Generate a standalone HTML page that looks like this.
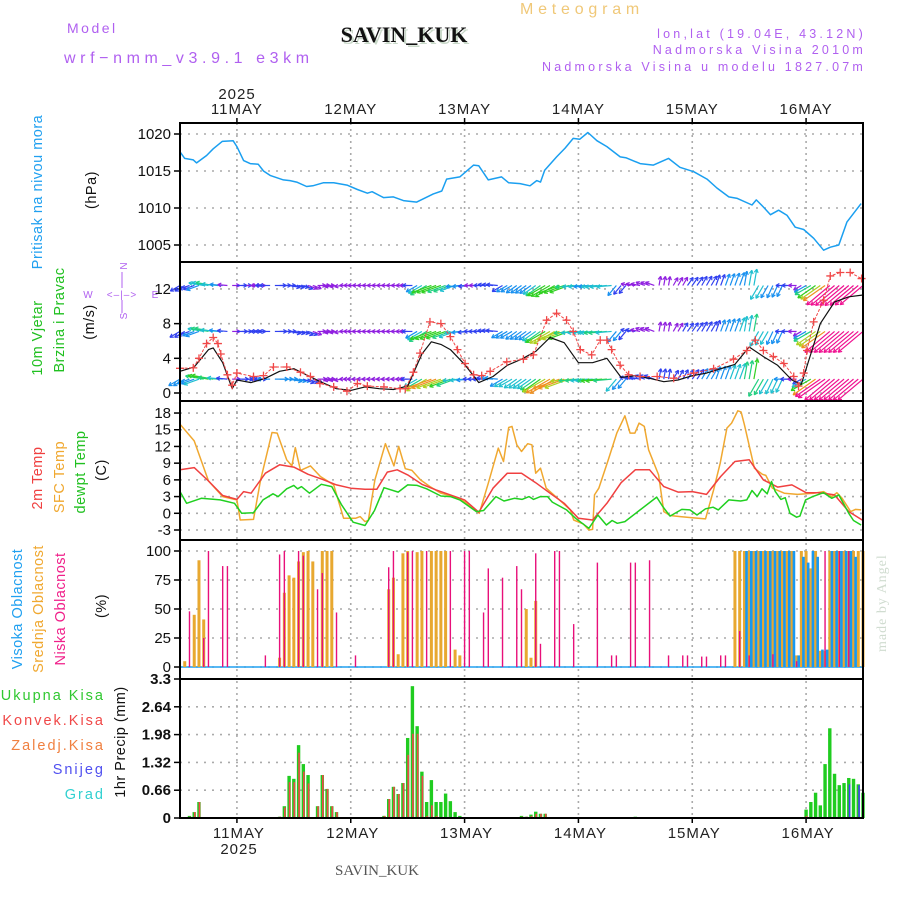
<!DOCTYPE html>
<html><head><meta charset="utf-8"><title>Meteogram SAVIN_KUK</title>
<style>
html,body{margin:0;padding:0;background:#fff;}
svg{display:block;font-family:"Liberation Sans",sans-serif;}
</style></head>
<body>
<svg id="chart" xmlns="http://www.w3.org/2000/svg" width="900" height="900" viewBox="0 0 900 900">
<g id="static">
<text x="67" y="33" font-size="14" fill="#b060f0" letter-spacing="2.5">Model</text>
<text x="64" y="63" font-size="16" fill="#b060f0" letter-spacing="4.6">wrf−nmm_v3.9.1 e3km</text>
<text x="406" y="44" font-size="22" font-weight="bold" text-anchor="middle" font-family="Liberation Serif,serif" fill="#c8d8c8" >SAVIN_KUK</text>
<text x="404" y="42" font-size="22" font-weight="bold" text-anchor="middle" font-family="Liberation Serif,serif" fill="#111">SAVIN_KUK</text>
<text x="582" y="14" font-size="16" text-anchor="middle" fill="#f0c878" letter-spacing="4.8">Meteogram</text>
<text x="866" y="38" font-size="12.5" text-anchor="end" fill="#b060f0" letter-spacing="3.2">lon,lat (19.04E, 43.12N)</text>
<text x="866" y="54" font-size="12.5" text-anchor="end" fill="#b060f0" letter-spacing="3.2">Nadmorska Visina 2010m</text>
<text x="866" y="71" font-size="12.5" text-anchor="end" fill="#b060f0" letter-spacing="3.2">Nadmorska Visina u modelu 1827.07m</text>
<text x="237" y="99" font-size="15" text-anchor="middle" fill="#222" letter-spacing="1">2025</text>
<text x="239" y="854" font-size="15" text-anchor="middle" fill="#222" letter-spacing="1">2025</text>
<text x="377" y="875" font-size="15" text-anchor="middle" font-family="Liberation Serif,serif" fill="#555">SAVIN_KUK</text>
<text transform="translate(886,652) rotate(-90)" font-size="14" font-family="Liberation Serif,serif" fill="#d0dcd0" letter-spacing="1">made by Angel</text>
</g>
<g font-size="14.5" letter-spacing="0.5">
<text transform="translate(42,192) rotate(-90)" text-anchor="middle" fill="#20a0f0">Pritisak na nivou mora</text>
<text transform="translate(96,190) rotate(-90)" text-anchor="middle" fill="#111">(hPa)</text>
<text transform="translate(42,338) rotate(-90)" text-anchor="middle" fill="#20c020">10m Vjetar</text>
<text transform="translate(64,320) rotate(-90)" text-anchor="middle" fill="#20c020">Brzina i Pravac</text>
<text transform="translate(94,322) rotate(-90)" text-anchor="middle" fill="#111">(m/s)</text>
<text transform="translate(42,478) rotate(-90)" text-anchor="middle" fill="#f04040">2m Temp</text>
<text transform="translate(64,477) rotate(-90)" text-anchor="middle" fill="#f0a830">SFC Temp</text>
<text transform="translate(85,472) rotate(-90)" text-anchor="middle" fill="#20c020">dewpt Temp</text>
<text transform="translate(106,470) rotate(-90)" text-anchor="middle" fill="#111">(C)</text>
<text transform="translate(22,609) rotate(-90)" text-anchor="middle" fill="#20a0f0">Visoka Oblacnost</text>
<text transform="translate(43,609) rotate(-90)" text-anchor="middle" fill="#f0a830">Srednja Oblacnost</text>
<text transform="translate(65,609) rotate(-90)" text-anchor="middle" fill="#f0208a">Niska Oblacnost</text>
<text transform="translate(106,606) rotate(-90)" text-anchor="middle" fill="#111">(%)</text>
<text transform="translate(125,742) rotate(-90)" text-anchor="middle" fill="#111">1hr Precip (mm)</text>
<text x="105" y="700" text-anchor="end" fill="#30c830" letter-spacing="2">Ukupna  Kisa</text>
<text x="105" y="725" text-anchor="end" fill="#f04848" letter-spacing="2">Konvek.Kisa</text>
<text x="105" y="750" text-anchor="end" fill="#f08040" letter-spacing="2">Zaledj.Kisa</text>
<text x="105" y="774" text-anchor="end" fill="#5050f0" letter-spacing="2">Snijeg</text>
<text x="105" y="799" text-anchor="end" fill="#30d0d0" letter-spacing="2">Grad</text>
</g>
<g font-size="10" fill="#b060f0" text-anchor="middle">
<text x="88" y="298">W</text><text x="155" y="298">E</text>
<text x="123" y="270" transform="rotate(-90 123 266)">N</text>
<text x="123" y="320" transform="rotate(-90 123 316)">S</text>
<text x="122" y="298" letter-spacing="1">&lt;–|–&gt;</text>
<line x1="122" y1="272" x2="122" y2="288" stroke="#b060f0" stroke-width="1"/>
<line x1="122" y1="300" x2="122" y2="313" stroke="#b060f0" stroke-width="1"/>
</g>
<g id="grid"></g>
<g id="marks"></g>
<g id="frames"></g>
</svg>
<script>
// ---------- data ----------
const dayLabels = ["11MAY","12MAY","13MAY","14MAY","15MAY","16MAY"];
const dayHours = [12,36,60,84,108,132];
const pressTicks = [1020,1015,1010,1005];
const windTicks = [12,8,4,0];
const tempTicks = [18,15,12,9,6,3,0,-3];
const cloudTicks = [100,75,50,25,0];
const precipTicks = ["3.3","2.64","1.98","1.32","0.66","0"];

const pressHours = [0,1,2.8,3.5,5.6,7,8.9,11.2,12,13.4,14.8,16.5,17.6,19,21.8,23.2,24.6,26.7,28,30.2,32.4,35.2,37.4,39.5,40.5,42.9,45,47.1,49.9,53.4,55.2,56.2,59,61.9,63,65,67.8,69.3,71.7,73.8,75.2,76,76.9,79.4,81.2,82.9,84.3,86,87.9,90,92.8,94,97,99.8,103,105.4,108.3,111.1,113.2,115.7,117.5,120.6,121.5,122.9,124.5,126.2,128,129.7,131.5,133.6,135.7,137.1,138.9,140.6,143.6];
const pressVals = [1017.6,1016.7,1016.5,1016.1,1017.1,1018,1019,1019.1,1018.3,1016.4,1016,1015.9,1015,1014.4,1013.8,1013.7,1013.5,1012.9,1013.0,1013.4,1013.4,1013.1,1012.5,1012,1012.2,1011.4,1011.5,1011,1010.8,1011.9,1012.3,1013.9,1014.2,1015.8,1015.7,1013.8,1014.2,1013.4,1013.3,1013,1013.7,1013.5,1015.1,1016.9,1018.1,1019.4,1019.3,1020.2,1019.1,1018.3,1016.9,1016.8,1016.0,1015.8,1016.7,1015.5,1014.9,1013.9,1012.7,1011.5,1011.3,1010.4,1011.1,1010.2,1009.1,1009.7,1009,1007.4,1007.1,1005.9,1004.3,1004.7,1005,1008.1,1010.6];

const speedHours = [0,2.8,4,5.6,7,8,8.6,10,11,12,15.5,17.6,19.7,22.5,25.4,27.5,29.5,32.4,35.2,37.4,39.5,43,46.4,47.5,49.2,50.6,52.7,55,57,58.5,60.1,61.9,63.6,65.4,68.9,72.4,74.5,77.3,79.4,81.5,82.9,84.4,86.8,88.6,90,91,92.8,94.6,97,100.6,104.1,108.3,112.5,116.7,119.5,121.3,123,125.1,127.3,129.4,130.4,131.5,132.2,133.6,135.7,137.1,139.2,141.3,143.7];
const speedVals = [2.85,2.9,4,5.7,6.4,5.7,4.5,2.1,0.9,2.3,1.9,2,3.0,3.0,2.4,1.9,1.1,0.7,0.2,1.1,0.8,0.7,0.5,0.5,2.4,4.6,8.2,8.0,6.5,5,3.4,2.1,2,2.5,3.6,3.9,4.4,8.4,9.2,8.4,7.1,5,4.4,6.1,6.1,5,3.2,2.1,1.9,1.9,1.7,2.3,2.8,3.9,4.9,6.1,4.9,4.2,3.4,1.9,0.8,2.3,4.9,8.2,10.7,13.5,13.9,13.9,13.2];
const calmHours = [0,3,6,7,9,11,12,15,18,21,24,27,30,33,36,39,42,45,48,51,53,55,57,60,63,66,69,72,75,78,81,84,87,90,93,96,99,102,105,108,111,114,117,120,123,126,129,131,133,135,138,141,144];
const calmVals = [2.5,3.0,5.0,5.2,3.5,0.5,1.5,1.2,1.7,2.5,2.8,2.0,1.2,0.5,0.3,0.7,0.5,0.4,0.8,4.5,5.9,5.6,5.0,3.3,1.2,1.9,3.2,3.9,4.8,6.4,5.8,3.5,3.5,4.0,1.8,2.0,1.7,1.3,1.5,2.0,2.3,2.8,3.3,5.3,4.2,3.2,1.5,1.0,4.5,8.0,10.5,11.1,11.3];
// wind direction (screen angle of arrow, degrees) every 3 hours from hour 0
const windDir = [150,160,190,185,0,0,180,0,10,20,0,170,180,180,180,180,180,150,160,160,175,180,185,150,145,145,150,160,175,175,175,130,190,200,280,300,305,300,290,290,280,120,115,180,150,145,140,140,140];

const t2Hours = [0,3,6,9,12,13.4,15,18,21,24,27,30,33,36,39,41.5,43.7,45.8,48,51,54,57,60,63,66,69,72,75,78,81,84,87,90,93,96,99,102,105,108,111,114,117,120,123,126,129,132,135,138,141,144];
const t2Vals = [7.8,8.2,5.8,3.2,2.5,3.9,3.6,7.2,8.7,8.3,7.0,6.1,5.1,4.5,4.3,4.3,7.4,7.8,6.9,5.2,4.2,3.3,2.4,0.2,4.5,7.2,7.2,5.5,3.6,1.8,-0.9,-1.2,1.8,5.5,7.8,7.8,4.8,3.8,3.9,3.4,6.6,9.3,9.6,6.0,4.7,5.1,3.7,3.7,3.3,0.3,-1.3];
const sfcHours = [0,3,6,9,12,12.7,15.5,17,19.4,20.5,22.5,23.6,24.3,25.4,27.5,29.6,32.4,34.5,37,38,39,39.7,41.1,43.3,45.1,46.1,47.5,48.9,50.7,52.7,55,59,63.1,65,67.1,68.2,69.3,70,71,72,73.3,74.2,75,76,77.2,80,82.3,83,85,86.2,87,87.4,88.3,90.3,92.1,93.8,94.9,95.9,96.8,97.9,98.8,100.9,102,103.3,105.5,108,110.8,112.5,113.9,115.3,116.3,117.6,118.3,119,121.1,122.8,123.5,124.9,127.4,130.2,133.6,135.7,137.4,138.5,139.6,141.4,142.4,143.6];
const sfcVals = [16,13,5.8,3.0,2.4,-1.2,-1.1,6,14.5,14.4,9.6,8.5,11.8,7.7,8.5,6.6,5.1,-0.9,-0.9,-0.6,-1.5,-1.3,6,12.5,8.5,12,8,7.7,6,4.8,3.6,2.7,0,5.4,11.7,9.3,15.4,15.6,12.3,11.1,12.5,12.3,7.2,8.1,4.5,2.4,0.6,-1.2,-1.9,-3,-2.9,3.3,4.5,9.6,14.4,17.5,14.4,14.4,16.2,15.6,11.4,6.9,0.3,-0.4,-0.6,-0.8,-1,4.2,9,15.3,16.2,18.4,18.2,15.9,8.1,7,6.8,4.5,3.6,3.4,3.6,3.9,3,3.7,2.7,0.3,0.7,0.6];
const dewHours = [0,1.4,4.5,8.5,11.5,13,15.5,17.5,19.6,20.7,22.5,24,24.8,25.6,27.3,29.8,32,34,36.5,39,41,43,46,48,50,52,55,57,59,62.5,64,66.6,68.3,70.5,72.1,73.6,74.5,76,77.5,78.5,81.5,83.4,86.2,88.1,89.9,91.1,92.2,93.8,97,100.5,101.8,103.3,105.8,107.5,109,110.8,112.4,113.5,115.7,118.2,119.5,120.6,121.7,122.7,123.8,124.7,125.5,126.7,127.6,128.6,130,130.7,131.9,133.4,135,135.7,137.4,138.9,141,142,143.6];
const dewVals = [3.9,1.8,2.7,2.4,1.8,0,0.1,2.4,3.5,3.0,4.4,5,4.4,4.8,3.6,5.2,4.8,1.6,-1.6,-2.2,0.5,4.6,3.8,5.1,5,4.4,3.1,3.0,2.4,0.3,0.5,3.0,2.2,2.7,2.5,3.0,2.5,3.0,3.0,2.0,0.6,-0.9,-2.7,-0.3,-2.1,-1.3,-1.8,-1.5,0.6,2.9,1.2,-0.5,0.7,0.6,-0.3,0.8,1.1,0.6,2.4,2.2,2.4,4.1,3.0,4.4,3.5,5.7,3.9,2.5,2.8,0,-0.7,-0.5,2.4,3,3.5,3.7,2.7,3.3,0,-1.3,-2.1];

const lowHours = [2,5,6,9,10,18,21,22,25,26,29,30,33,37,44,45,48,49,52,57,60,61,64,65,68,71,72,75,76,79,80,83,88,91,92,95,96,99,103,106,107,110,111,114,115,118,120,125,130,136,139,141];
const lowVals = [48,25,100,87,87,10,97,100,100,96,67,81,47,10,86,100,99,100,100,100,100,100,47,85,77,87,67,98,20,100,100,37,90,10,10,90,90,92,10,10,10,9,9,10,10,31,10,11,5,100,100,100];
const midHours = [1,3,4,5,21,22,23,24,25,26,27,28,30,31,32,44,45,46,47,48,50,51,53,54,55,56,58,59,73,74,75,117,118,119,120,121,122,123,124,125,126,127,128,129,130,131,132,133,134,135,136,137,138,139,140,141,142,143,144];
const midVals = [5,45,92,41,8,64,79,77,91,99,100,91,100,100,100,67,77,11,98,100,99,100,100,100,100,100,15,10,50,8,57,100,100,100,100,100,100,100,100,100,100,100,100,100,10,100,100,85,100,14,14,100,100,100,100,100,100,100,100];
const highHours = [119,120,121,122,123,124,125,126,127,128,129,130,131,132,133,134,135,136,137,138,139,140,141,142];
const highVals = [100,100,100,100,100,100,100,100,100,100,100,10,95,90,100,95,15,15,100,100,100,100,100,95];

const precipHours = [2,3,4, 21,22,23,24,25,26,27, 29,30,31,32,33, 43,44,45,46,47,48,49,50,51,52,53,54,55,56,57,58,59, 72,73,74,75,76,77, 96, 132,133,134,135,136,137,138,139,140,141,142,143,144];
const precipTotal = [0.05,0.14,0.38, 0.03,0.28,1.0,0.93,1.73,1.28,1.02, 0.28,1.02,0.69,0.28,0.14, 0.05,0.45,0.74,0.57,0.83,1.9,3.13,2.18,1.1,0.38,0.9,0.38,0.38,0.58,0.4,0.14,0.05, 0.05,0.03,0.08,0.15,0.1,0.1, 0.03, 0.2,0.38,0.6,0.3,1.28,2.13,1.05,0.78,0.83,0.95,0.93,0.8,0.6];
const precipConv = [0.03,0.14,0.38, 0.03,0.25,0.85,0.85,1.55,1.1,0.82, 0.28,1.02,0.69,0.28,0.14, 0.05,0.45,0.74,0.57,0.83,1.5,2.0,2.0,1.0,0.05,0.3,0.05,0,0,0,0,0, 0.03,0.03,0.05,0.1,0.1,0.1, 0, 0.05,0,0,0,0,0,0,0,0,0,0,0,0];
const precipSnow = [0,0,0, 0,0,0,0,0,0,0, 0,0,0,0,0, 0,0,0,0,0,0,0,0,0,0,0,0,0,0,0,0,0, 0,0,0,0,0,0, 0, 0,0,0,0,0,0,0,0,0,0.8,0,0.78,0];

// ---------- axes ----------
const X0 = 180, X1 = 863, HSPAN = 144;
const P1 = {top:123, bot:262}, P2 = {top:262, bot:401}, P3 = {top:401, bot:540}, P4 = {top:540, bot:679}, P5 = {top:679, bot:818};
function xH(h){ return X0 + h*(X1-X0)/HSPAN; }
function yP(v){ return 134 + (1020-v)*7.4; }
function yW(v){ return 393 - v*8.67; }
function yT(v){ return 530 - (v+3)*5.57; }
function yC(v){ return 667 - v*1.16; }
function yR(v){ return 818 - v*(139/3.3); }

const NS = "http://www.w3.org/2000/svg";
function mk(tag, attrs, parent){
  const e = document.createElementNS(NS, tag);
  for (const k in attrs) e.setAttribute(k, attrs[k]);
  parent.appendChild(e); return e;
}
const grid = document.getElementById('grid');
const marks = document.getElementById('marks');
const frames = document.getElementById('frames');
const panels = [P1,P2,P3,P4,P5];

dayHours.forEach((h,i)=>{
  const x = xH(h);
  const ln = mk('line',{x1:x,y1:123,x2:x,y2:818,stroke:'#aaa','stroke-width':1.6,'stroke-dasharray':'2,4'},grid);
  
  
  const t = mk('text',{x:x,y:114,'font-size':15,'text-anchor':'middle',fill:'#222','letter-spacing':1},grid);
  t.textContent = dayLabels[i];
  
  
  const b = mk('text',{x:x+2,y:838,'font-size':15,'text-anchor':'middle',fill:'#222','letter-spacing':1},grid);
  b.textContent = dayLabels[i];
  
  
  mk('line',{x1:x,y1:118,x2:x,y2:123,stroke:'#000','stroke-width':1.5},grid);
  mk('line',{x1:x,y1:818,x2:x,y2:823,stroke:'#000','stroke-width':1.5},grid);
});
function yTicks(vals, fy, labels, bold){
  vals.forEach((v,i)=>{
    const y = fy(v);
    const g = mk('line',{x1:X0,y1:y,x2:X1,y2:y,stroke:'#aaa','stroke-width':1.6,'stroke-dasharray':'2,6'},grid);
    
    
    mk('line',{x1:X0-6,y1:y,x2:X0,y2:y,stroke:'#000','stroke-width':1.5},grid);
    const t = mk('text',{x:X0-9,y:y+5,'font-size':15,'text-anchor':'end',fill:'#111','font-weight':bold?'bold':'normal'},grid);
    t.textContent = labels ? labels[i] : String(v);
    
    
  });
}
yTicks(pressTicks, yP);
yTicks(windTicks, yW);
yTicks(tempTicks, yT);
yTicks(cloudTicks, yC);
yTicks(precipTicks.map(Number), yR, precipTicks, true);

function poly(hs, vs, fy, color, w, name){
  const pts = hs.map((h,i)=> xH(h).toFixed(1)+','+fy(vs[i]).toFixed(1)).join(' ');
  const p = mk('polyline',{points:pts,fill:'none',stroke:color,'stroke-width':w,'stroke-linejoin':'round'},marks);
  
  
  return p;
}
poly(pressHours, pressVals, yP, '#1a9ff0', 1.5, 'pressure-line');

function windColor(v){
  if (v < 2) return '#9020e0';
  if (v < 3.2) return '#3040f0';
  if (v < 4.5) return '#1890f0';
  if (v < 6) return '#20c0d0';
  if (v < 7.5) return '#20d080';
  if (v < 9) return '#30d020';
  if (v < 10.5) return '#b0d020';
  if (v < 12.5) return '#f09020';
  return '#f01090';
}
function speedAt(h){
  for (let i=1;i<speedHours.length;i++){
    if (speedHours[i] >= h){
      const a = speedHours[i-1], b = speedHours[i];
      const f = (h-a)/(b-a||1);
      return speedVals[i-1] + f*(speedVals[i]-speedVals[i-1]);
    }
  }
  return speedVals[speedVals.length-1];
}
const rows = [{y:yW(12.4),k:0.95},{y:yW(7.1),k:1.05},{y:yW(1.6),k:1.3}];
const wg = mk('g',{},marks);


for (let h=0; h<=HSPAN; h++){
  const ang = windDir[Math.min(windDir.length-1, Math.round(h/3))]*Math.PI/180;
  const sp = speedAt(h);
  rows.forEach(r=>{
    const v = sp*r.k;
    const L = 6 + Math.min(v,14)*1.9;
    const x0 = xH(h), y0 = r.y;
    const x1 = x0 + Math.cos(ang)*L, y1 = y0 + Math.sin(ang)*L;
    const c = windColor(v);
    const a = mk('line',{x1:x0,y1:y0,x2:x1,y2:y1,stroke:c,'stroke-width':1.2},wg);
    
    
    const hl = 4;
    [0.5,-0.5].forEach(d=>{
      mk('line',{x1:x1,y1:y1,x2:x1-Math.cos(ang+d)*hl,y2:y1-Math.sin(ang+d)*hl,stroke:c,'stroke-width':1.2},wg);
    });
  });
}
poly(calmHours, calmVals, yW, '#111', 1.2, 'wind-speed-black-line');
poly(speedHours, speedVals, yW, '#f04848', 1, 'wind-speed-line').setAttribute('stroke-dasharray','3,1.5');
speedHours.forEach((h,i)=>{
  const x = xH(h), y = yW(speedVals[i]);
  const m = mk('path',{d:`M${x-4},${y}H${x+4}M${x},${y-4}V${y+4}`,stroke:'#f04848','stroke-width':1.3},marks);
  
  
});

poly(sfcHours, sfcVals, yT, '#f0a830', 1.5, 'sfc-temp-line');
poly(t2Hours, t2Vals, yT, '#f04040', 1.5, 'temp-2m-line');
poly(dewHours, dewVals, yT, '#20d020', 1.5, 'dewpoint-line');

const cb = mk('line',{x1:X0,y1:yC(0),x2:X1,y2:yC(0),stroke:'#20a0f0','stroke-width':1.5},marks);


midHours.forEach((h,i)=>{
  const r = mk('rect',{x:xH(h)-1.5,y:yC(midVals[i]),width:3,height:yC(0)-yC(midVals[i]),fill:'#e8a830'},marks);
  
  
});
highHours.forEach((h,i)=>{
  const r = mk('rect',{x:xH(h)+0.8,y:yC(highVals[i]),width:2.6,height:yC(0)-yC(highVals[i]),fill:'#1898f0'},marks);
  
  
});
lowHours.forEach((h,i)=>{
  const r = mk('rect',{x:xH(h)-0.7,y:yC(lowVals[i]),width:1.4,height:yC(0)-yC(lowVals[i]),fill:'#e8107a'},marks);
  
  
});

precipHours.forEach((h,i)=>{
  const x = xH(h);
  const t = mk('rect',{x:x-1.7,y:yR(precipTotal[i]),width:3.4,height:yR(0)-yR(precipTotal[i]),fill:'#20cc20'},marks);
  
  
  if (precipConv[i] > 0){
    const c = mk('rect',{x:x-0.3,y:yR(precipConv[i]),width:1.6,height:yR(0)-yR(precipConv[i]),fill:'#f04848'},marks);
    
    
  }
  if (precipSnow[i] > 0){
    const s = mk('rect',{x:x,y:yR(precipSnow[i]),width:1.6,height:yR(0)-yR(precipSnow[i]),fill:'#4040f0'},marks);
    
    
  }
});
const zl = mk('line',{x1:X0,y1:yR(0),x2:X1,y2:yR(0),stroke:'#000','stroke-width':2,'stroke-dasharray':'5,2'},marks);



panels.forEach(p=>{
  const r = mk('rect',{x:X0,y:p.top,width:X1-X0,height:p.bot-p.top,fill:'none',stroke:'#000','stroke-width':2},frames);
  
  
});
</script>
</body></html>
